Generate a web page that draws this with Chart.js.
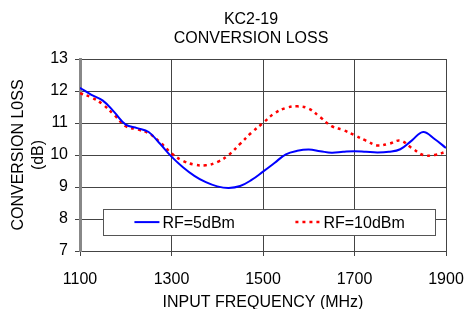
<!DOCTYPE html>
<html lang="en">
<head>
<meta charset="UTF-8">
<title>KC2-19 Conversion Loss</title>
<script src="https://cdn.jsdelivr.net/npm/chart.js"></script>
<style>
  html, body { margin: 0; padding: 0; background: #fff; }
  .wrap { width: 465px; height: 309px; position: relative; }
</style>
</head>
<body>
<div class="wrap"><canvas id="lossChart"></canvas></div>
<script>
// values
const freqs = [1100, 1125, 1150, 1175, 1200, 1225, 1250, 1275, 1300, 1325, 1350, 1375, 1400,
               1425, 1450, 1475, 1500, 1525, 1550, 1575, 1600, 1625, 1650, 1675, 1700,
               1725, 1750, 1775, 1800, 1825, 1850, 1875, 1900];
const loss5dBm = [12.1, 11.88, 11.7, 11.34, 10.95, 10.84, 10.72, 10.35, 9.95, 9.62, 9.35, 9.15, 9.02,
                  8.97, 9.03, 9.22, 9.48, 9.75, 10.02, 10.13, 10.17, 10.12, 10.07, 10.1, 10.12,
                  10.1, 10.08, 10.1, 10.18, 10.45, 10.72, 10.5, 10.22];
const loss10dBm = [11.93, 11.8, 11.58, 11.25, 10.9, 10.8, 10.68, 10.4, 10.05, 9.82, 9.7, 9.68, 9.78,
                   10.0, 10.35, 10.7, 11.0, 11.3, 11.47, 11.52, 11.45, 11.18, 10.9, 10.78, 10.62,
                   10.45, 10.3, 10.35, 10.45, 10.22, 10.0, 10.0, 10.1];
const xTicks = [1100, 1300, 1500, 1700, 1900];
const titleLines = ['KC2-19', 'CONVERSION LOSS'];
const seriesNames = ['RF=5dBm', 'RF=10dBm'];

const FONT = "'Liberation Sans', Arial, sans-serif";

// title drawn over the plot centre
const titlePlugin = {
  id: 'topTitle',
  afterDraw(chart) {
    const ctx = chart.ctx;
    const a = chart.chartArea;
    const cx = (a.left + a.right) / 2 - 12;
    ctx.save();
    ctx.font = '16px ' + FONT;
    ctx.fillStyle = '#000';
    ctx.textAlign = 'center';
    ctx.textBaseline = 'middle';
    ctx.fillText(titleLines[0], cx, 20);
    ctx.fillText(titleLines[1], cx, 39);
    ctx.restore();
  }
};

// legend box sitting inside the plot area
const boxLegend = {
  id: 'boxLegend',
  afterDatasetsDraw(chart) {
    const ctx = chart.ctx;
    const a = chart.chartArea;
    const w = a.right - a.left, h = a.bottom - a.top;
    const x0 = a.left + w * 0.064, x1 = a.left + w * 0.97;
    const y0 = a.top + h * 0.782, y1 = a.top + h * 0.917;
    const cy = (y0 + y1) / 2;
    ctx.save();
    ctx.fillStyle = '#fff';
    ctx.fillRect(x0, y0, x1 - x0, y1 - y0);
    ctx.strokeStyle = '#555';
    ctx.lineWidth = 1;
    ctx.strokeRect(Math.round(x0) + 0.5, Math.round(y0) + 0.5, Math.round(x1 - x0), Math.round(y1 - y0));
    const starts = [x0 + 31, x0 + 192];
    chart.data.datasets.forEach((ds, i) => {
      ctx.beginPath();
      ctx.strokeStyle = ds.borderColor;
      ctx.lineWidth = ds.borderWidth;
      ctx.setLineDash(ds.borderDash || []);
      ctx.moveTo(starts[i], cy);
      ctx.lineTo(starts[i] + 25, cy);
      ctx.stroke();
      ctx.setLineDash([]);
      ctx.fillStyle = '#000';
      ctx.font = '16px ' + FONT;
      ctx.textAlign = 'left';
      ctx.textBaseline = 'middle';
      ctx.fillText(ds.label, starts[i] + 28, cy + 1);
    });
    ctx.restore();
  }
};

const ctx = document.getElementById('lossChart').getContext('2d');
new Chart(ctx, {
  type: 'line',
  data: {
    datasets: [{
      label: seriesNames[0],
      data: freqs.map((f, i) => ({ x: f, y: loss5dBm[i] })),
      borderColor: '#0000ff',
      borderWidth: 2,
      pointRadius: 0,
      tension: 0.4,
      fill: false
    }, {
      label: seriesNames[1],
      data: freqs.map((f, i) => ({ x: f, y: loss10dBm[i] })),
      borderColor: '#ff0000',
      borderWidth: 2.5,
      borderDash: [3, 4],
      pointRadius: 0,
      tension: 0.4,
      fill: false
    }]
  },
  options: {
    responsive: true,
    maintainAspectRatio: false,
    animation: false,
    layout: { padding: { top: 59, right: 19, bottom: 0, left: 0 } },
    plugins: {
      legend: { display: false },
      title: { display: false },
      tooltip: { enabled: false }
    },
    scales: {
      x: {
        type: 'linear',
        min: 1100,
        max: 1900,
        afterBuildTicks(scale) { scale.ticks = xTicks.map(v => ({ value: v })); },
        afterFit(scale) {
          scale.height = 58;
          // let the layout padding decide the side margins
          scale.paddingLeft = 0;
          scale.paddingRight = 0;
        },
        ticks: {
          color: '#000',
          font: { family: FONT, size: 16 },
          padding: 14,
          maxRotation: 0,
          callback: v => String(v)
        },
        grid: { color: '#444', lineWidth: 1, tickLength: 5, drawTicks: true },
        border: { display: false },
        title: {
          display: true,
          text: 'INPUT FREQUENCY (MHz)',
          color: '#000',
          font: { family: FONT, size: 16 },
          padding: { top: 0, bottom: -3 }
        }
      },
      y: {
        min: 7,
        max: 13,
        afterFit(scale) { scale.width = 80; },
        ticks: {
          stepSize: 1,
          color: '#000',
          font: { family: FONT, size: 16 },
          padding: 7
        },
        grid: { color: '#444', lineWidth: 1, tickLength: 5, drawTicks: true },
        border: { display: true, color: '#888', width: 3 },
        title: {
          display: true,
          text: ['CONVERSION L0SS', '(dB)'],
          color: '#000',
          font: { family: FONT, size: 16, lineHeight: 1.25 },
          padding: { top: 9, bottom: 0 }
        }
      }
    }
  },
  plugins: [titlePlugin, boxLegend]
});
</script>
</body>
</html>
